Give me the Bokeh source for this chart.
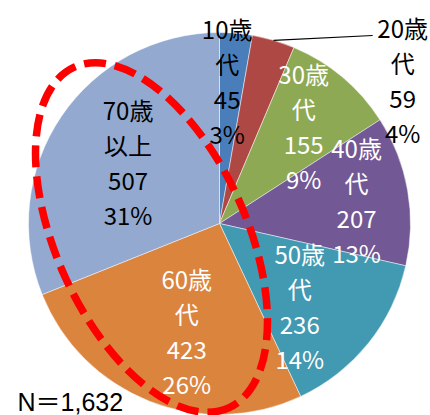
import math
from bokeh.plotting import figure
from bokeh.models import Range1d
from bokeh.core.properties import value
from bokeh.embed import file_html
from bokeh.resources import INLINE

# ---- data ----
age_groups = ["10歳\n代", "20歳\n代", "30歳\n代", "40歳\n代", "50歳\n代", "60歳\n代", "70歳\n以上"]
counts = [45, 59, 155, 207, 236, 423, 507]
percent_labels = ["3%", "4%", "9%", "13%", "14%", "26%", "31%"]
total_label = "N＝1,632"

# ---- style / layout ----
colors = ["#4A7EBB", "#AE4845", "#8EA954", "#725894", "#4299B2", "#DB843E", "#93A9CF"]
text_colors = ["black", "black", "white", "white", "white", "white", "black"]
label_radius = [143, 233, 129, 139, 115, 112, 110]
label_nudge_deg = [-1.9, 35.4, 0.7, 0.5, 6.9, -4.5, -0.3]
outside = [False, True, False, False, False, False, False]

W, H = 430, 415
def px(x):
    return x
def py(y):
    return H - y

cx, cy, R = px(219), py(223), 191

p = figure(width=W, height=H, output_backend="svg", toolbar_location=None,
           x_range=Range1d(0, W), y_range=Range1d(0, H), min_border=0)
p.axis.visible = False
p.grid.visible = False
p.outline_line_color = None
p.background_fill_color = "white"
p.border_fill_color = "white"

total = sum(counts)
starts, ends, mids = [], [], []
cum = 0
for c in counts:
    a0 = math.pi / 2 - 2 * math.pi * cum / total
    cum += c
    a1 = math.pi / 2 - 2 * math.pi * cum / total
    starts.append(a0)
    ends.append(a1)
    mids.append((cum - c / 2) / total * 360.0)  # degrees clockwise from top

p.wedge(x=[cx] * len(counts), y=[cy] * len(counts), radius=R,
        start_angle=starts, end_angle=ends, direction="clock",
        fill_color=colors, line_color="white", line_width=0.8, line_alpha=0.6)

# labels
lx, ly, texts = [], [], []
for i, (g, c, pct) in enumerate(zip(age_groups, counts, percent_labels)):
    ang = math.radians(mids[i] + label_nudge_deg[i])
    lx.append(cx + label_radius[i] * math.sin(ang))
    ly.append(cy + label_radius[i] * math.cos(ang))
    texts.append(f"{g}\n{c}\n{pct}")

# leader line for outside label(s)
for i in range(len(counts)):
    if outside[i]:
        m = math.radians(mids[i])
        x0 = cx + R * math.sin(m)
        y0 = cy + R * math.cos(m)
        x1 = lx[i] - 30
        y1 = ly[i] + 44
        p.line([x0, x1], [y0, y1], line_color="black", line_width=1.2)

p.text(x=lx, y=ly, text=texts, text_align="center", text_baseline="middle",
       text_font=value("Noto Sans CJK JP"), text_font_size="24px",
       text_line_height=1.0, text_color=text_colors)

# red dashed ellipse highlight
p.ellipse(x=[px(151)], y=[py(237)], width=374, height=190,
          angle=math.radians(-65.6), fill_alpha=0, line_color="#FF0000",
          line_width=7.5, line_dash="22 9")

p.text(x=[px(17)], y=[py(401)], text=[total_label], text_align="left",
       text_baseline="middle", text_font=value("Liberation Sans, Noto Sans CJK JP"),
       text_font_size="25px", text_color="black")

open("out.html", "w").write(file_html(p, INLINE))
